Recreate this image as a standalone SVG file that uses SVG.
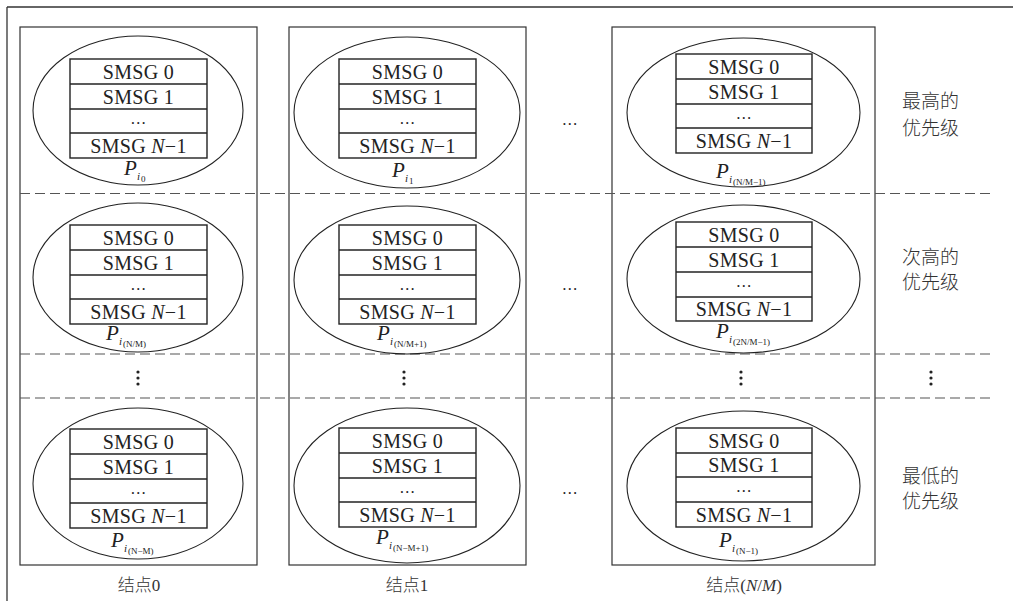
<svg xmlns="http://www.w3.org/2000/svg" width="1013" height="601" viewBox="0 0 1013 601">
<style>
.frame{fill:none;stroke:#333;stroke-width:1.3}
.node{fill:none;stroke:#333;stroke-width:1.2}
.ell{fill:none;stroke:#222;stroke-width:1.1}
.tbl{fill:#fff;stroke:#222;stroke-width:1.4}
.row{stroke:#222;stroke-width:1.4}
.dash{stroke:#555;stroke-width:1.2;stroke-dasharray:10 5}
.t{font-family:"Liberation Serif",serif;font-size:20px;fill:#222;text-anchor:middle;letter-spacing:0.3px}
.e{font-family:"Liberation Serif",serif;font-size:16px;fill:#222;text-anchor:middle;letter-spacing:0.5px}
.it{font-style:italic}
.p{font-family:"Liberation Serif",serif;font-size:21px;font-style:italic;fill:#222}
.s1{font-family:"Liberation Serif",serif;font-size:11px;font-style:italic;fill:#222}
.s2{font-family:"Liberation Serif",serif;font-size:9px;fill:#222}
.cn{font-family:"Liberation Serif","Noto Sans CJK SC",serif;font-size:19px;font-weight:300;fill:#333}
.bl{font-family:"Liberation Serif","Noto Sans CJK SC",serif;font-size:17px;font-weight:300;fill:#333;text-anchor:middle}
.dot{fill:#222}
</style>
<rect width="1013" height="601" fill="#fff"/>
<g id="outer">
<line class="frame" x1="7" y1="7" x2="1013" y2="7"/>
<line class="frame" x1="7" y1="7" x2="7" y2="601"/>
</g>
<g id="node0-frame"><rect class="node" x="20" y="27" width="237" height="538"/></g>
<g id="node1-frame"><rect class="node" x="289" y="27" width="237" height="538"/></g>
<g id="nodeNM-frame"><rect class="node" x="612" y="27" width="263" height="538"/></g>
<g id="connectors">
<line class="dash" x1="20" y1="193.5" x2="993" y2="193.5"/>
<line class="dash" x1="20" y1="354" x2="993" y2="354"/>
<line class="dash" x1="20" y1="398" x2="993" y2="398"/>
</g>

<!-- row 1 -->
<g id="cell-r1c0">
<ellipse class="ell" cx="138" cy="110.5" rx="105" ry="74.5"/>
<rect class="tbl" x="70" y="59" width="137" height="99"/>
<line class="row" x1="70" y1="84" x2="207" y2="84"/><line class="row" x1="70" y1="109" x2="207" y2="109"/><line class="row" x1="70" y1="133" x2="207" y2="133"/>
<text class="t" x="138.5" y="78.5">SMSG 0</text>
<text class="t" x="138.5" y="103.5">SMSG 1</text>
<text class="e" x="138.5" y="123.5">…</text>
<text class="t" x="138.5" y="152.5">SMSG <tspan class="it">N</tspan>−1</text>
<text class="p" x="124" y="175">P</text><text class="s1" x="137" y="180">i</text><text class="s2" x="141" y="182">0</text>
</g>
<g id="cell-r1c1">
<ellipse class="ell" cx="407" cy="112.5" rx="113" ry="75.5"/>
<rect class="tbl" x="339" y="59" width="137" height="99"/>
<line class="row" x1="339" y1="84" x2="476" y2="84"/><line class="row" x1="339" y1="109" x2="476" y2="109"/><line class="row" x1="339" y1="133" x2="476" y2="133"/>
<text class="t" x="407.5" y="78.5">SMSG 0</text>
<text class="t" x="407.5" y="103.5">SMSG 1</text>
<text class="e" x="407.5" y="123.5">…</text>
<text class="t" x="407.5" y="152.5">SMSG <tspan class="it">N</tspan>−1</text>
<text class="p" x="392" y="177">P</text><text class="s1" x="405" y="182">i</text><text class="s2" x="409" y="184">1</text>
</g>
<g id="cell-r1c2">
<ellipse class="ell" cx="743.5" cy="112.5" rx="116.5" ry="74.5"/>
<rect class="tbl" x="676" y="54" width="136" height="99"/>
<line class="row" x1="676" y1="79" x2="812" y2="79"/><line class="row" x1="676" y1="104" x2="812" y2="104"/><line class="row" x1="676" y1="128" x2="812" y2="128"/>
<text class="t" x="744" y="73.5">SMSG 0</text>
<text class="t" x="744" y="98.5">SMSG 1</text>
<text class="e" x="744" y="118.5">…</text>
<text class="t" x="744" y="147.5">SMSG <tspan class="it">N</tspan>−1</text>
<text class="p" x="716" y="178">P</text><text class="s1" x="729" y="183">i</text><text class="s2" x="733" y="185">(N/M−1)</text>
</g>

<!-- row 2 -->
<g id="cell-r2c0">
<ellipse class="ell" cx="138" cy="277.5" rx="105" ry="74.5"/>
<rect class="tbl" x="70" y="225" width="137" height="99"/>
<line class="row" x1="70" y1="250" x2="207" y2="250"/><line class="row" x1="70" y1="275" x2="207" y2="275"/><line class="row" x1="70" y1="299" x2="207" y2="299"/>
<text class="t" x="138.5" y="244.5">SMSG 0</text>
<text class="t" x="138.5" y="269.5">SMSG 1</text>
<text class="e" x="138.5" y="289.5">…</text>
<text class="t" x="138.5" y="318.5">SMSG <tspan class="it">N</tspan>−1</text>
<text class="p" x="106" y="340">P</text><text class="s1" x="119" y="345">i</text><text class="s2" x="123" y="347">(N/M)</text>
</g>
<g id="cell-r2c1">
<ellipse class="ell" cx="407" cy="280" rx="113" ry="74"/>
<rect class="tbl" x="339" y="225" width="137" height="99"/>
<line class="row" x1="339" y1="250" x2="476" y2="250"/><line class="row" x1="339" y1="275" x2="476" y2="275"/><line class="row" x1="339" y1="299" x2="476" y2="299"/>
<text class="t" x="407.5" y="244.5">SMSG 0</text>
<text class="t" x="407.5" y="269.5">SMSG 1</text>
<text class="e" x="407.5" y="289.5">…</text>
<text class="t" x="407.5" y="318.5">SMSG <tspan class="it">N</tspan>−1</text>
<text class="p" x="377" y="340">P</text><text class="s1" x="390" y="345">i</text><text class="s2" x="394" y="347">(N/M+1)</text>
</g>
<g id="cell-r2c2">
<ellipse class="ell" cx="743.5" cy="279" rx="116.5" ry="74"/>
<rect class="tbl" x="676" y="222" width="136" height="99"/>
<line class="row" x1="676" y1="247" x2="812" y2="247"/><line class="row" x1="676" y1="272" x2="812" y2="272"/><line class="row" x1="676" y1="297" x2="812" y2="297"/>
<text class="t" x="744" y="241.5">SMSG 0</text>
<text class="t" x="744" y="266.5">SMSG 1</text>
<text class="e" x="744" y="286.5">…</text>
<text class="t" x="744" y="315.5">SMSG <tspan class="it">N</tspan>−1</text>
<text class="p" x="716" y="338">P</text><text class="s1" x="729" y="343">i</text><text class="s2" x="733" y="345">(2N/M−1)</text>
</g>

<!-- row 3: vertical ellipses -->
<g id="vdots">
<circle class="dot" cx="138" cy="372" r="1.6"/><circle class="dot" cx="138" cy="378" r="1.6"/><circle class="dot" cx="138" cy="384" r="1.6"/>
<circle class="dot" cx="404" cy="372" r="1.6"/><circle class="dot" cx="404" cy="378" r="1.6"/><circle class="dot" cx="404" cy="384" r="1.6"/>
<circle class="dot" cx="741" cy="372" r="1.6"/><circle class="dot" cx="741" cy="378" r="1.6"/><circle class="dot" cx="741" cy="384" r="1.6"/>
<circle class="dot" cx="931" cy="372" r="1.6"/><circle class="dot" cx="931" cy="378" r="1.6"/><circle class="dot" cx="931" cy="384" r="1.6"/>
</g>

<!-- row 4 -->
<g id="cell-r4c0">
<ellipse class="ell" cx="138" cy="483.5" rx="105" ry="75.5"/>
<rect class="tbl" x="70" y="429" width="137" height="99"/>
<line class="row" x1="70" y1="454" x2="207" y2="454"/><line class="row" x1="70" y1="479" x2="207" y2="479"/><line class="row" x1="70" y1="503" x2="207" y2="503"/>
<text class="t" x="138.5" y="448.5">SMSG 0</text>
<text class="t" x="138.5" y="473.5">SMSG 1</text>
<text class="e" x="138.5" y="493.5">…</text>
<text class="t" x="138.5" y="522.5">SMSG <tspan class="it">N</tspan>−1</text>
<text class="p" x="111" y="547">P</text><text class="s1" x="124" y="552">i</text><text class="s2" x="128" y="554">(N−M)</text>
</g>
<g id="cell-r4c1">
<ellipse class="ell" cx="407" cy="485.5" rx="113" ry="77.5"/>
<rect class="tbl" x="339" y="428" width="137" height="99"/>
<line class="row" x1="339" y1="453" x2="476" y2="453"/><line class="row" x1="339" y1="478" x2="476" y2="478"/><line class="row" x1="339" y1="502" x2="476" y2="502"/>
<text class="t" x="407.5" y="447.5">SMSG 0</text>
<text class="t" x="407.5" y="472.5">SMSG 1</text>
<text class="e" x="407.5" y="492.5">…</text>
<text class="t" x="407.5" y="521.5">SMSG <tspan class="it">N</tspan>−1</text>
<text class="p" x="376" y="544">P</text><text class="s1" x="389" y="549">i</text><text class="s2" x="393" y="551">(N−M+1)</text>
</g>
<g id="cell-r4c2">
<ellipse class="ell" cx="743.5" cy="486" rx="116.5" ry="75"/>
<rect class="tbl" x="676" y="428" width="136" height="99"/>
<line class="row" x1="676" y1="453" x2="812" y2="453"/><line class="row" x1="676" y1="477" x2="812" y2="477"/><line class="row" x1="676" y1="502" x2="812" y2="502"/>
<text class="t" x="744" y="447.5">SMSG 0</text>
<text class="t" x="744" y="471.5">SMSG 1</text>
<text class="e" x="744" y="491.5">…</text>
<text class="t" x="744" y="521.5">SMSG <tspan class="it">N</tspan>−1</text>
<text class="p" x="719" y="547">P</text><text class="s1" x="732" y="552">i</text><text class="s2" x="736" y="554">(N−1)</text>
</g>

<!-- horizontal ellipses between columns -->
<g id="hdots">
<text class="e" x="570" y="125">…</text>
<text class="e" x="570" y="290">…</text>
<text class="e" x="570" y="494">…</text>
</g>

<!-- priority labels -->
<g id="label-highest">
<text class="cn" x="902" y="108">最高的</text>
<text class="cn" x="902" y="135">优先级</text>
</g>
<g id="label-second">
<text class="cn" x="902" y="264">次高的</text>
<text class="cn" x="902" y="289">优先级</text>
</g>
<g id="label-lowest">
<text class="cn" x="902" y="483">最低的</text>
<text class="cn" x="902" y="508">优先级</text>
</g>

<!-- node labels -->
<g id="node0-label"><text class="bl" x="139" y="591">结点0</text></g>
<g id="node1-label"><text class="bl" x="407" y="591">结点1</text></g>
<g id="nodeNM-label"><text class="bl" x="744" y="591">结点(<tspan font-style="italic">N</tspan>/<tspan font-style="italic">M</tspan>)</text></g>
</svg>
